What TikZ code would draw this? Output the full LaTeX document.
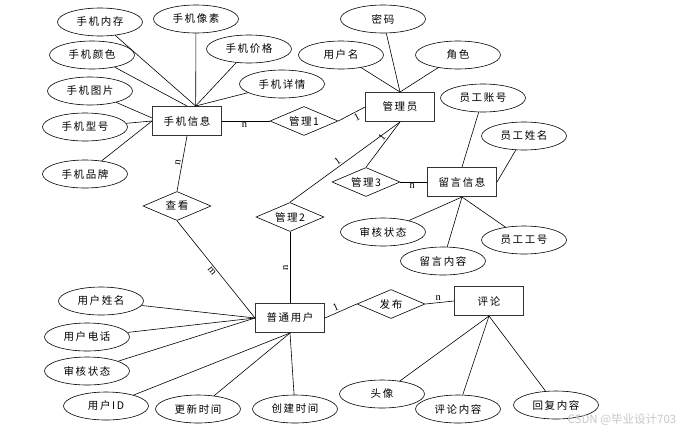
\documentclass[tikz,border=0pt]{standalone}
\usepackage{fontspec}
\setmainfont{Noto Sans CJK SC}[LetterSpace=15]
\newfontfamily\cardfont{Liberation Serif}
\newfontfamily\markfont{Noto Sans CJK SC}
\usetikzlibrary{shapes.geometric, positioning, calc}

\begin{document}
\begin{tikzpicture}[
    x=1pt, y=-1pt,
    font=\fontsize{10.5}{12}\selectfont,
    entity/.style={draw=black!80, line width=1pt, minimum width=69pt, minimum height=29pt, inner sep=0pt},
    attr/.style={ellipse, draw, line width=0.6pt, minimum width=85pt, minimum height=28pt, inner sep=0pt},
    rel/.style={diamond, draw, line width=0.6pt, aspect=2.35, minimum width=68pt, minimum height=29pt, inner sep=0pt},
    link/.style={line width=0.6pt},
    card/.style={font=\cardfont\fontsize{10.5}{11}\selectfont, inner sep=1.5pt}
]
\useasboundingbox (0,0) rectangle (692,434);

% Phone info and its attributes
\node[entity] (phone) at (187,121) {手机信息};
\node[attr] (memory) at (100,22) {手机内存};
\node[attr] (pixel) at (196,19) {手机像素};
\node[attr] (price) at (249,49) {手机价格};
\node[attr] (color) at (92,55) {手机颜色};
\node[attr] (detail) at (282,84) {手机详情};
\node[attr] (picture) at (90,91) {手机图片};
\node[attr] (model) at (85,127) {手机型号};
\node[attr] (brand) at (85,174) {手机品牌};

% Admin
\node[entity] (admin) at (400,107) {管理员};
\node[attr] (pwd) at (383,19) {密码};
\node[attr] (uname) at (341,55) {用户名};
\node[attr] (role) at (458,55) {角色};

% Message
\node[entity] (msg) at (462,182) {留言信息};
\node[attr] (empno) at (483,98) {员工账号};
\node[attr] (empname) at (524,136) {员工姓名};
\node[attr] (msgstate) at (383,232) {审核状态};
\node[attr] (msgtext) at (443,261) {留言内容};
\node[attr] (empid) at (524,240) {员工工号};

% Normal user
\node[entity] (user) at (290,318) {普通用户};
\node[attr] (realname) at (101,301) {用户姓名};
\node[attr] (tel) at (87,337) {用户电话};
\node[attr] (userstate) at (87,371) {审核状态};
\node[attr] (userid) at (106,406) {用户ID};
\node[attr] (updtime) at (198,409) {更新时间};
\node[attr] (crttime) at (295,409) {创建时间};

% Comment
\node[entity] (comment) at (489,301) {评论};
\node[attr] (avatar) at (382,394) {头像};
\node[attr] (ctext) at (458,409) {评论内容};
\node[attr] (reply) at (556,405) {回复内容};

% Relations
\node[rel] (manage1) at (304,121) {管理1};
\node[rel] (manage2) at (290,217) {管理2};
\node[rel] (manage3) at (366,182) {管理3};
\node[rel] (view) at (177,206) {查看};
\node[rel] (publish) at (391,304) {发布};

% Attribute lines
\draw[link] (memory) -- (phone.60);
\draw[link] (pixel) -- (phone.60);
\draw[link] (price) -- (phone.60);
\draw[link] (detail) -- (phone.60);
\draw[link] (color) -- (phone.north);
\draw[link] (picture) -- (phone.175);
\draw[link] (model) -- (phone.west);
\draw[link] (brand) -- (phone.west);

\draw[link] (pwd) -- (admin.north);
\draw[link] (uname) -- (admin.north);
\draw[link] (role) -- (admin.north);

\draw[link] (empno) -- (msg.north);
\draw[link] (empname) -- (msg.east);
\draw[link] (msgstate) -- (msg.south);
\draw[link] (msgtext) -- (msg.south);
\draw[link] (empid) -- (msg.south);

\draw[link] (realname) -- (user.west);
\draw[link] (tel) -- (user.west);
\draw[link] (userstate) -- (user.west);
\draw[link] (userid) -- (user.south);
\draw[link] (updtime) -- (user.south);
\draw[link] (crttime) -- (user.south);

\draw[link] (avatar) -- (comment.south);
\draw[link] (ctext) -- (comment.south);
\draw[link] (reply) -- (comment.south);

% Relation lines
\draw[link] (phone.east) -- node[card, pos=.47, below] {n} (manage1.west);
\draw[link] (manage1.east) -- node[card, pos=.6, sloped, below] {1} (admin.west);
\draw[link] (view.north) -- node[card, pos=.5, sloped, above] {n} (phone.south);
\draw[link] (view.south) -- node[card, pos=.49, sloped, below] {m} (user.west);
\draw[link] (manage2.north) -- node[card, pos=.46, sloped, above] {1} (admin.south);
\draw[link] (manage3.north) -- node[card, pos=.59, sloped, above] {1} (admin.south);
\draw[link] (manage3.east) -- node[card, pos=.45, below] {n} (msg.west);
\draw[link] (user.north) -- node[card, pos=.5, sloped, above] {n} (manage2.south);
\draw[link] (user.east) -- node[card, pos=.4, sloped, above] {1} (publish.west);
\draw[link] (publish.east) -- node[card, pos=.45, above] {n} (comment.west);

% Watermark
\node[text=black!22, font=\markfont\fontsize{11.5}{12}\selectfont] (mark) at (622,420) {CSDN @毕业设计703};

\end{tikzpicture}
\end{document}
